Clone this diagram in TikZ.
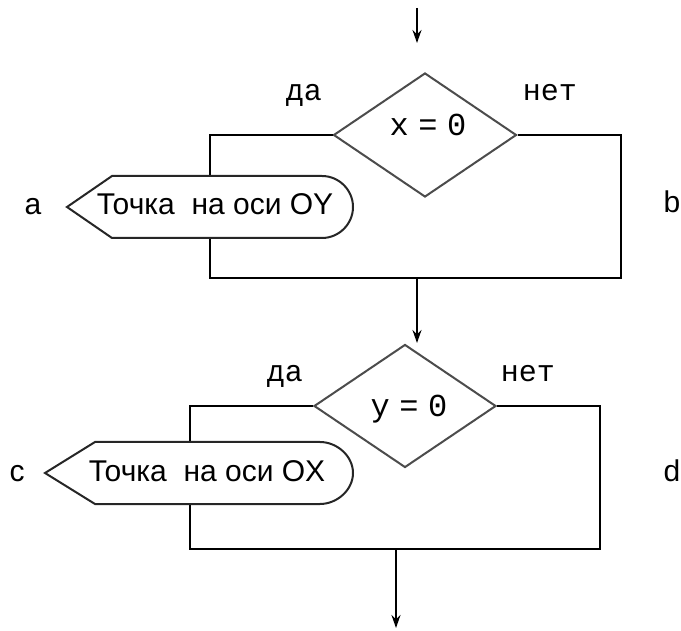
\documentclass[tikz,border=0pt]{standalone}
\usepackage{fontspec}
\setmainfont{Liberation Sans}
\newfontfamily\flowmono{Liberation Mono}
\usepackage{tikz}
\usetikzlibrary{positioning,arrows.meta,shapes.geometric}
\tikzset{
  fline/.style={draw=black,line width=2pt},
  fdiamond/.style={diamond,draw=black!70,line width=2pt,inner sep=0pt,minimum width=183pt,minimum height=124pt},
  foutput/.style={draw=black!85,fill=white,line width=2pt},
  ftext/.style={inner sep=0pt,anchor=base,font=\fontsize{30}{30}\selectfont},
  fanswer/.style={inner sep=0pt,anchor=base,font=\flowmono\fontsize{30}{30}\selectfont},
  fcond/.style={inner sep=0pt,anchor=base,font=\flowmono\fontsize{32}{32}\selectfont},
  farrow/.style={-{Stealth[length=13pt,width=9pt]},draw=black,line width=2pt}
}
\begin{document}
\begin{tikzpicture}[x=1pt,y=-1pt]
  \useasboundingbox (0,0) rectangle (681,631);
  % first test
  \coordinate (start) at (417,8);
  \coordinate (in1) at (417,43);
  \node[fdiamond] (test1) at (425,135) {};
  \node[fcond] (cond1) at (428,136) {x\hspace{0.3em}=\hspace{0.3em}0};
  \node[fanswer] (yes1) at (304,101) {да};
  \node[fanswer] (no1) at (550,101) {нет};
  \coordinate (f1tl) at (210,135);
  \coordinate (f1bl) at (210,278);
  \coordinate (f1br) at (621,278);
  \coordinate (f1tr) at (621,135);
  \coordinate (join1) at (417,278);
  \draw[farrow] (start) -- (in1);
  \draw[fline] (test1.west) -- (f1tl) -- (f1bl) -- (f1br) -- (f1tr) -- (test1.east);
  \draw[foutput] (67,207) -- (112,176) -- (322,176) .. controls (339,176) and (353,190) .. (353,207)
    .. controls (353,224) and (339,238) .. (322,238) -- (112,238) -- cycle;
  \node[ftext] (outy) at (215,215) {Точка\ \ на оси OY};
  \node[ftext] (la) at (33,215) {a};
  \node[ftext] (lb) at (672,213) {b};
  % second test
  \coordinate (in2) at (417,343);
  \node[fdiamond,minimum width=182pt,minimum height=123pt] (test2) at (405,406) {};
  \node[fcond] (cond2) at (409,417) {y\hspace{0.3em}=\hspace{0.3em}0};
  \node[fanswer] (yes2) at (285,382) {да};
  \node[fanswer] (no2) at (528,382) {нет};
  \coordinate (f2tl) at (190,406);
  \coordinate (f2bl) at (190,549);
  \coordinate (f2br) at (600,549);
  \coordinate (f2tr) at (600,406);
  \coordinate (join2) at (396,549);
  \coordinate (finish) at (396,628);
  \draw[farrow] (join1) -- (in2);
  \draw[fline] (test2.west) -- (f2tl) -- (f2bl) -- (f2br) -- (f2tr) -- (test2.east);
  \draw[foutput] (45,473) -- (95,442) -- (320,442) .. controls (337,442) and (353,456) .. (353,473)
    .. controls (353,490) and (337,504) .. (320,504) -- (95,504) -- cycle;
  \node[ftext] (outx) at (207,481) {Точка\ \ на оси OX};
  \node[ftext] (lc) at (17,481) {c};
  \node[ftext] (ld) at (672,482) {d};
  \draw[farrow] (join2) -- (finish);
\end{tikzpicture}
\end{document}
